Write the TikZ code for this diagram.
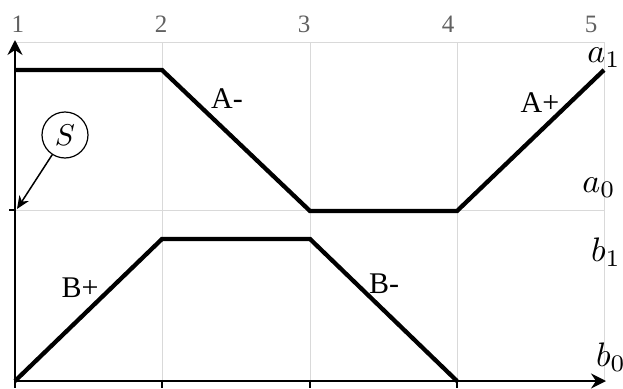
\documentclass[tikz,border=0pt]{standalone}
\usepackage{fontspec}
\setmainfont{Liberation Serif}
\usetikzlibrary{arrows.meta}
\begin{document}
\begin{tikzpicture}[x=1pt,y=-1pt,
  gridline/.style={draw=black!15,line width=0.9pt},
  axis/.style={draw=black,line width=2pt},
  signal/.style={draw=black,line width=4.3pt,line join=miter},
  lbl/.style={font=\normalsize,inner sep=0pt,scale=3.0},
  num/.style={font=\normalsize,text=black!62,inner sep=0pt,scale=2.5},
  lvl/.style={font=\normalsize,inner sep=0pt,scale=3.4},
  tick/.style={draw=black,line width=1.8pt}]
\useasboundingbox (0,0) rectangle (623,388);
% grid coordinates
\coordinate (x1) at (15,381);
\coordinate (x2) at (162,381);
\coordinate (x3) at (310,381);
\coordinate (x4) at (457,381);
\coordinate (x5) at (604,381);
\coordinate (t1) at (15,42);
\coordinate (t2) at (162,42);
\coordinate (t3) at (310,42);
\coordinate (t4) at (457,42);
\coordinate (t5) at (604,42);
\coordinate (m1) at (15,210);
\coordinate (m5) at (604,210);
% grid
\draw[gridline] (t1) -- (t5);
\draw[gridline] (m1) -- (m5);
\draw[gridline] (t2) -- (x2);
\draw[gridline] (t3) -- (x3);
\draw[gridline] (t4) -- (x4);
\draw[gridline] (t5) -- (x5);
% ticks
\coordinate (k1) at (15,388);
\coordinate (k2) at (162,388);
\coordinate (k3) at (310,388);
\coordinate (k4) at (457,388);
\coordinate (km) at (9,210);
\draw[tick] (x1) -- (k1);
\draw[tick] (x2) -- (k2);
\draw[tick] (x3) -- (k3);
\draw[tick] (x4) -- (k4);
\draw[tick] (km) -- (m1);
% axes
\coordinate (top) at (15,40);
\coordinate (right) at (606,381);
\draw[axis,-{Stealth[length=15pt,width=15pt,inset=5pt]}] (x1) -- (top);
\draw[axis,-{Stealth[length=15pt,width=15pt,inset=5pt]}] (x1) -- (right);
% numbers
\node[num] (n1) at (18,24) {1};
\node[num] (n2) at (161,24) {2};
\node[num] (n3) at (304,24) {3};
\node[num] (n4) at (448,24) {4};
\node[num] (n5) at (591,24) {5};
% signal A
\coordinate (a1) at (15,70);
\coordinate (a2) at (162,70);
\coordinate (a3) at (310,211);
\coordinate (a4) at (457,211);
\coordinate (a5) at (604,70);
\draw[signal] (a1) -- (a2) -- (a3) -- (a4) -- (a5);
% signal B
\coordinate (b1) at (15,381);
\coordinate (b2) at (162,239);
\coordinate (b3) at (310,239);
\coordinate (b4) at (457,381);
\draw[signal] (b1) -- (b2) -- (b3) -- (b4);
% labels
\node[lbl] (Am) at (227,99) {A-};
\node[lbl] (Ap) at (540,103) {A+};
\node[lbl] (Bp) at (80,288) {B+};
\node[lbl] (Bm) at (384,284) {B-};
\node[lvl] (la1) at (604,58) {$a_1$};
\node[lvl] (la0) at (599,188) {$a_0$};
\node[lvl] (lb1) at (606,252) {$b_1$};
\node[lvl] (lb0) at (611,357) {$b_0$};
% S marker
\node[draw,circle,line width=1.2pt,minimum size=46pt,inner sep=0pt] (S) at (65,135) {};
\node[font=\normalsize,inner sep=0pt,scale=3] (Slbl) at (S.center) {$S$};
\coordinate (sp) at (17,209);
\draw[line width=1.5pt,-{Stealth[length=13pt,width=11pt,inset=4pt]}] (S) -- (sp);
\end{tikzpicture}
\end{document}
